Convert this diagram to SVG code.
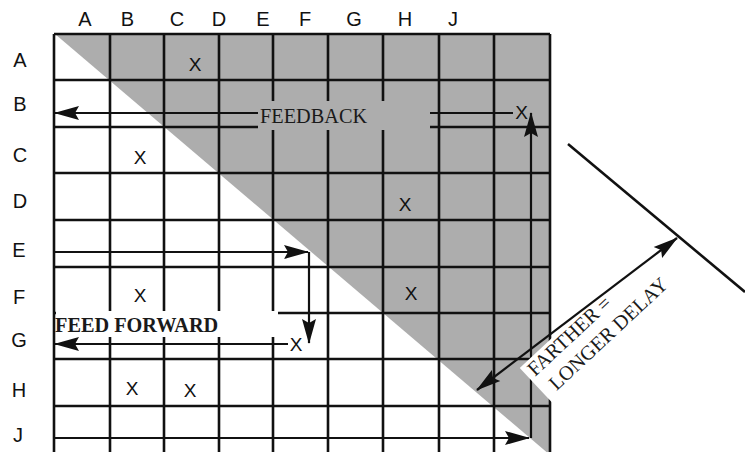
<svg xmlns="http://www.w3.org/2000/svg" width="745" height="452" viewBox="0 0 745 452">
<style>
.hdr{font-family:"Liberation Sans",Arial,sans-serif;font-size:20px;fill:#111;text-anchor:middle}
.x{font-family:"Liberation Sans",Arial,sans-serif;font-size:19px;fill:#111;text-anchor:middle}
.g{stroke:#111;stroke-width:2.6;fill:none}
.c{stroke:#111;stroke-width:2.2;fill:none}
.lbl{font-family:"Liberation Serif","Times New Roman",serif;font-size:20.3px;fill:#1a1a1a}
</style>
<defs>
<marker id="ah" markerUnits="userSpaceOnUse" markerWidth="25" markerHeight="16" refX="24" refY="8" orient="auto-start-reverse"><path d="M0,1 L25,8 L0,15 L4,8 Z" fill="#111"/></marker>
</defs>
<rect width="745" height="452" fill="#fff"/>
<g id="matrix">
<polygon points="55,34 550,34 550,455" fill="#adadad"/>
<path class="g" d="M54,34V456M110,34V456M164,34V456M219,34V456M273,34V456M328,34V456M383,34V456M439,34V456M494,34V456M550,34V456"/>
<path class="g" d="M54,34H550M54,80H550M54,127H550M54,173H550M54,220H550M54,267H550M54,313H550M54,359H550M54,406H550"/>
</g>
<g id="headers">
<text class="hdr" x="85" y="26">A</text><text class="hdr" x="127.5" y="26">B</text><text class="hdr" x="177" y="26">C</text><text class="hdr" x="219" y="26">D</text><text class="hdr" x="263" y="26">E</text><text class="hdr" x="305" y="26">F</text><text class="hdr" x="354" y="26">G</text><text class="hdr" x="405" y="26">H</text><text class="hdr" x="453" y="26">J</text>
<text class="hdr" x="20" y="67">A</text><text class="hdr" x="20" y="111">B</text><text class="hdr" x="20" y="162">C</text><text class="hdr" x="20" y="208">D</text><text class="hdr" x="19" y="257">E</text><text class="hdr" x="19" y="304">F</text><text class="hdr" x="19" y="347">G</text><text class="hdr" x="19" y="397">H</text><text class="hdr" x="18" y="442">J</text>
</g>
<g id="connectors">
<line class="c" x1="54" y1="438" x2="529" y2="438" marker-end="url(#ah)"/>
<line class="c" x1="531" y1="438" x2="531" y2="113" marker-end="url(#ah)"/>
<line class="c" x1="513" y1="113" x2="55" y2="113" marker-end="url(#ah)"/>
<line class="c" x1="54" y1="252" x2="308" y2="252" marker-end="url(#ah)"/>
<line class="c" x1="309" y1="252" x2="309" y2="343" marker-end="url(#ah)"/>
<line class="c" x1="288" y1="344" x2="55" y2="344" marker-end="url(#ah)"/>
<line class="g" x1="568" y1="144" x2="745" y2="292"/>
</g>
<g id="label-feedback">
<rect x="258" y="101" width="172" height="29" fill="#adadad"/>
<text class="lbl" x="260" y="123">FEEDBACK</text>
</g>
<g id="label-feedforward">
<rect x="56" y="311" width="222" height="26" fill="#fff"/>
<text class="lbl" x="55" y="332" font-weight="bold" fill="#111">FEED FORWARD</text>
</g>
<g id="label-delay" transform="translate(535,377) rotate(-43)">
<rect x="-5" y="-17" width="172" height="48" fill="#fff"/>
<text class="lbl" x="0" y="0">FARTHER =</text>
<text class="lbl" x="6" y="25">LONGER DELAY</text>
</g>
<g id="delay-arrow">
<line class="c" x1="477" y1="390" x2="677" y2="238" marker-start="url(#ah)" marker-end="url(#ah)"/>
</g>
<g id="marks">
<text class="x" x="195" y="71">X</text>
<text class="x" x="521.5" y="118.5">X</text>
<text class="x" x="140" y="164">X</text>
<text class="x" x="405" y="211">X</text>
<text class="x" x="140" y="302">X</text>
<text class="x" x="411" y="300">X</text>
<text class="x" x="296" y="351">X</text>
<text class="x" x="132" y="395">X</text>
<text class="x" x="190" y="397">X</text>
</g>
</svg>
